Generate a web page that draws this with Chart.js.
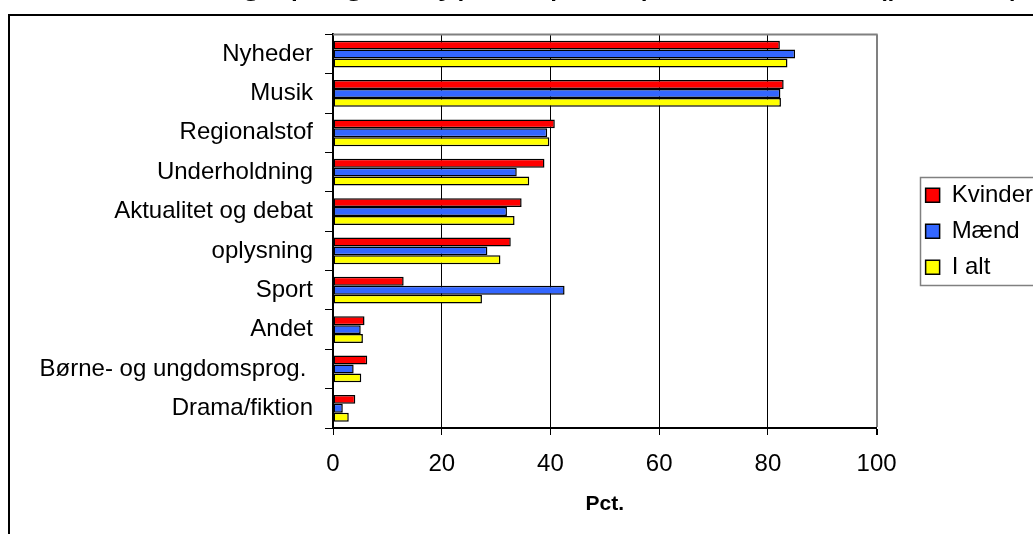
<!DOCTYPE html>
<html>
<head>
<meta charset="utf-8">
<script src="https://cdn.jsdelivr.net/npm/chart.js@4/dist/chart.umd.min.js"></script>
<style>
  html, body { margin: 0; padding: 0; background: #fff; }
  #wrap { position: relative; width: 1033px; height: 534px; overflow: hidden; }
  #frame { position: absolute; left: 8px; top: 14px; width: 2000px; height: 2000px;
           border-top: 2px solid #000; border-left: 2px solid #000; }
  #chart { position: absolute; left: 0; top: -39px; }
</style>
</head>
<body>
<div id="wrap">
  <div id="frame"></div>
  <canvas id="chart" width="1043" height="573"></canvas>
</div>
<script>
const categories = ['Nyheder', 'Musik', 'Regionalstof', 'Underholdning', 'Aktualitet og debat',
    'oplysning', 'Sport', 'Andet', 'Børne- og ungdomsprog. ', 'Drama/fiktion'];
const kvinder = [82.2, 82.9, 40.8, 38.9, 34.7, 32.7, 13.0, 5.8, 6.3, 4.1];
const maend = [85.0, 82.3, 39.4, 33.8, 32.0, 28.4, 42.6, 5.1, 3.8, 1.8];
const iAlt = [83.6, 82.4, 39.8, 36.1, 33.4, 30.8, 27.4, 5.5, 5.2, 2.9];
const seriesNames = ['Kvinder', 'Mænd', 'I alt'];
const xTicks = [0, 20, 40, 60, 80, 100];

const FONT = "'Liberation Sans', Arial, sans-serif";
Chart.defaults.font.family = FONT;
Chart.defaults.color = '#000';

// gray border on top of the plot area and a box around the legend
const extras = {
    id: 'extras',
    afterLayout(chart) {
        // keep the legend centred on the plot area
        const lg = chart.legend;
        const area = chart.chartArea;
        lg.top = area.top;
        lg.bottom = area.bottom;
        lg.height = area.bottom - area.top;
    },
    afterDraw(chart) {
        const ctx = chart.ctx;
        const area = chart.chartArea;
        ctx.save();
        ctx.strokeStyle = '#808080';
        ctx.lineWidth = 2;
        ctx.beginPath();
        ctx.moveTo(area.left, area.top);
        ctx.lineTo(area.right + 1, area.top);
        ctx.stroke();

        const lg = chart.legend;
        const hb = lg.legendHitBoxes;
        if (hb && hb.length) {
            const mid = (area.top + area.bottom) / 2;
            const x0 = Math.round(hb[0].left - 6) + 0.5;
            const y0 = Math.round(mid - 54) + 0.5;
            const y1 = Math.round(mid + 54) + 0.5;
            ctx.lineWidth = 1.5;
            ctx.beginPath();
            ctx.moveTo(chart.width + 5, y0);
            ctx.lineTo(x0, y0);
            ctx.lineTo(x0, y1);
            ctx.lineTo(chart.width + 5, y1);
            ctx.stroke();
        }
        ctx.restore();
    }
};

const colors = ['#FF0000', '#3366FF', '#FFFF00'];
const values = [kvinder, maend, iAlt];

new Chart(document.getElementById('chart'), {
    type: 'bar',
    data: {
        labels: categories,
        datasets: seriesNames.map((name, i) => ({
            label: name,
            data: values[i],
            backgroundColor: colors[i],
            borderColor: '#000',
            borderWidth: 1.5,
            borderSkipped: false,
            categoryPercentage: 0.68,
            barPercentage: 1
        }))
    },
    options: {
        indexAxis: 'y',
        responsive: false,
        animation: false,
        layout: { padding: 0 },
        plugins: {
            title: {
                display: true,
                text: 'Fordeling i programtyper, opdelt på køn i 2005 (procent)  ',
                align: 'end',
                color: '#000',
                font: { size: 37, weight: 'normal' },
                padding: { top: 0, bottom: 29 }
            },
            legend: {
                position: 'right',
                labels: {
                    font: { size: 24 },
                    color: '#000',
                    boxWidth: 14,
                    boxHeight: 14,
                    padding: 12
                }
            },
            tooltip: { enabled: false }
        },
        scales: {
            x: {
                min: 0,
                max: 100,
                afterBuildTicks(s) { s.ticks = xTicks.map(v => ({ value: v })); },
                ticks: { font: { size: 24 }, color: '#000', padding: 15 },
                grid: {
                    color: c => (c.tick && c.tick.value === 100) ? '#808080' : '#000',
                    lineWidth: c => (c.tick && c.tick.value === 100) ? 2 : 1,
                    tickLength: 7,
                    tickColor: '#000'
                },
                border: { color: '#000', width: 2 },
                title: {
                    display: true,
                    text: 'Pct.',
                    color: '#000',
                    font: { size: 21, weight: 'bold' },
                    padding: { top: 0, bottom: 17 }
                },
                afterFit(s) { s.height = 106; }
            },
            y: {
                ticks: { font: { size: 24 }, color: '#000', padding: 12 },
                grid: { drawOnChartArea: false, tickLength: 8, color: '#000' },
                border: { color: '#000', width: 2 },
                afterFit(s) { s.width = 333; }
            },
            gap: {
                type: 'category',
                position: 'right',
                display: true,
                grid: { display: false },
                ticks: { display: false },
                border: { display: false },
                afterFit(s) { s.width = 37; }
            }
        }
    },
    plugins: [extras]
});
</script>
</body>
</html>
